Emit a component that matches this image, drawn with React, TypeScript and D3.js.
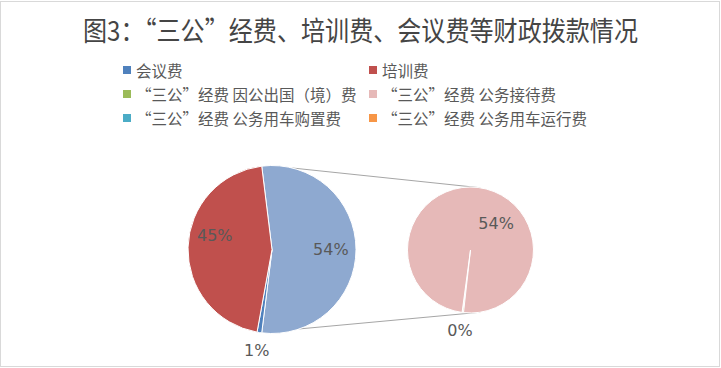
import React from "react";
import * as d3 from "d3";

// ---- data ----
const mainCategories = ["会议费", "培训费"];
const mainValues = [0.9, 45.2];
const subCategories = [
  "“三公”经费 因公出国（境）费",
  "“三公”经费 公务接待费",
  "“三公”经费 公务用车购置费",
  "“三公”经费 公务用车运行费",
];
const subValues = [0.2, 53.7, 0, 0];
const legendLabels = [
  "会议费",
  "培训费",
  "“三公”经费 因公出国（境）费",
  "“三公”经费 公务接待费",
  "“三公”经费 公务用车购置费",
  "“三公”经费 公务用车运行费",
];
const titleText = "图3：“三公”经费、培训费、会议费等财政拨款情况";

// ---- styles ----
const mainColors = ["#4F81BD", "#C0504D"];
const otherColor = "#8EA9D0";
const subColors = ["#9BBB59", "#E6B9B8", "#4BACC6", "#F79646"];
const legendColors = ["#4F81BD", "#C0504D", "#9BBB59", "#E6B9B8", "#4BACC6", "#F79646"];

const W = 721;
const H = 368;
const deg = Math.PI / 180;

export default function App() {
  const subTotal = d3.sum(subValues);
  const total = d3.sum(mainValues) + subTotal;
  const fmt = d3.format(".0%");

  // main pie
  const cx1 = 272, cy1 = 249.5, r1 = 84;
  const otherFrac = subTotal / total;
  const mainStart = Math.PI / 2 - otherFrac * Math.PI;
  const mainData = [
    { key: "other", value: subTotal, color: otherColor },
    ...mainCategories.map((c, i) => ({ key: c, value: mainValues[i], color: mainColors[i] })),
  ];
  const mainArcs = d3
    .pie<any>()
    .sort(null)
    .value((d) => d.value)
    .startAngle(mainStart)
    .endAngle(mainStart + 2 * Math.PI)(mainData);
  const arc1 = d3.arc<any>().innerRadius(0).outerRadius(r1);

  // sub pie
  const cx2 = 470.5, cy2 = 250, r2 = 63;
  const otherEnd = Math.PI / 2 + otherFrac * Math.PI;
  const subOrderIdx = [0, 2, 3, 1];
  const subData = subOrderIdx.map((i) => ({
    key: subCategories[i],
    value: subValues[i],
    color: subColors[i],
  }));
  const tinyAngle = (subValues[0] / subTotal) * 2 * Math.PI;
  const subStart = otherEnd - tinyAngle / 2;
  const subArcs = d3
    .pie<any>()
    .sort(null)
    .value((d) => d.value)
    .startAngle(subStart)
    .endAngle(subStart + 2 * Math.PI)(subData);
  const arc2 = d3.arc<any>().innerRadius(0).outerRadius(r2);

  // label placement (polar: angle deg from top clockwise, radius factor)
  const mainLabelPos: Record<string, [number, number]> = {
    other: [90, 0.7],
    "会议费": [188.6, 1.22],
    "培训费": [283.3, 0.7],
  };
  const subLabelPos: Record<string, [number, number]> = {
    [subCategories[0]]: [187.4, 1.29],
    [subCategories[1]]: [44.4, 0.58],
  };
  const polar = (cx: number, cy: number, r: number, a: number, f: number) => [
    cx + Math.sin(a * deg) * r * f,
    cy - Math.cos(a * deg) * r * f,
  ];

  // connector lines
  const c1t = polar(cx1, cy1, r1, 14, 1);
  const c1b = polar(cx1, cy1, r1, 161, 1);
  const c2t = polar(cx2, cy2, r2, 9, 1);
  const c2b = polar(cx2, cy2, r2, 171, 1);

  const legendX = [123, 369];
  const legendY = [70, 94, 118];
  const labelColor = "#595959";
  const cjk = "'Noto Sans CJK SC', 'Noto Sans', sans-serif";

  return (
    <svg
      width={W}
      height={H}
      style={{ position: "absolute", left: 0, top: 0, background: "#fff" }}
    >
      <rect x={0.5} y={1.5} width={W - 2} height={H - 3} fill="#fff" stroke="#D9D9D9" />
      <text
        x={360.5}
        y={29}
        textAnchor="middle"
        dominantBaseline="central"
        fontFamily={cjk}
        fontSize={27}
        fill="#454545"
        textLength={555}
        lengthAdjust="spacingAndGlyphs"
      >
        {titleText}
      </text>

      {legendLabels.map((lab, i) => {
        const col = i % 2;
        const row = Math.floor(i / 2);
        return (
          <g key={lab} transform={`translate(${legendX[col]},${legendY[row]})`}>
            <rect x={0} y={-4} width={8} height={8} fill={legendColors[i]} />
            <text
              x={13}
              y={0}
              dominantBaseline="central"
              fontFamily={cjk}
              fontSize={15.5}
              fill={labelColor}
            >
              {lab}
            </text>
          </g>
        );
      })}

      <line x1={c1t[0]} y1={c1t[1]} x2={c2t[0]} y2={c2t[1]} stroke="#A6A6A6" strokeWidth={1} />
      <line x1={c1b[0]} y1={c1b[1]} x2={c2b[0]} y2={c2b[1]} stroke="#A6A6A6" strokeWidth={1} />

      <g transform={`translate(${cx1},${cy1})`}>
        {mainArcs.map((a) => (
          <path key={a.data.key} d={arc1(a) as string} fill={a.data.color} stroke="#fff" strokeWidth={1} />
        ))}
      </g>
      <g transform={`translate(${cx2},${cy2})`}>
        {subArcs.map((a) => (
          <path key={a.data.key} d={arc2(a) as string} fill={a.data.color} stroke="#fff" strokeWidth={1} />
        ))}
      </g>

      {mainArcs.map((a) => {
        const p = mainLabelPos[a.data.key];
        const [x, y] = polar(cx1, cy1, r1, p[0], p[1]);
        return (
          <text
            key={"l" + a.data.key}
            x={x}
            y={y}
            textAnchor="middle"
            dominantBaseline="central"
            fontFamily="'DejaVu Sans', sans-serif"
            fontSize={16}
            fill={labelColor}
          >
            {fmt(a.data.value / total)}
          </text>
        );
      })}
      {subArcs
        .filter((a) => subLabelPos[a.data.key])
        .map((a) => {
          const p = subLabelPos[a.data.key];
          const [x, y] = polar(cx2, cy2, r2, p[0], p[1]);
          return (
            <text
              key={"s" + a.data.key}
              x={x}
              y={y}
              textAnchor="middle"
              dominantBaseline="central"
              fontFamily="'DejaVu Sans', sans-serif"
              fontSize={16}
              fill={labelColor}
            >
              {fmt(a.data.value / total)}
            </text>
          );
        })}
    </svg>
  );
}
